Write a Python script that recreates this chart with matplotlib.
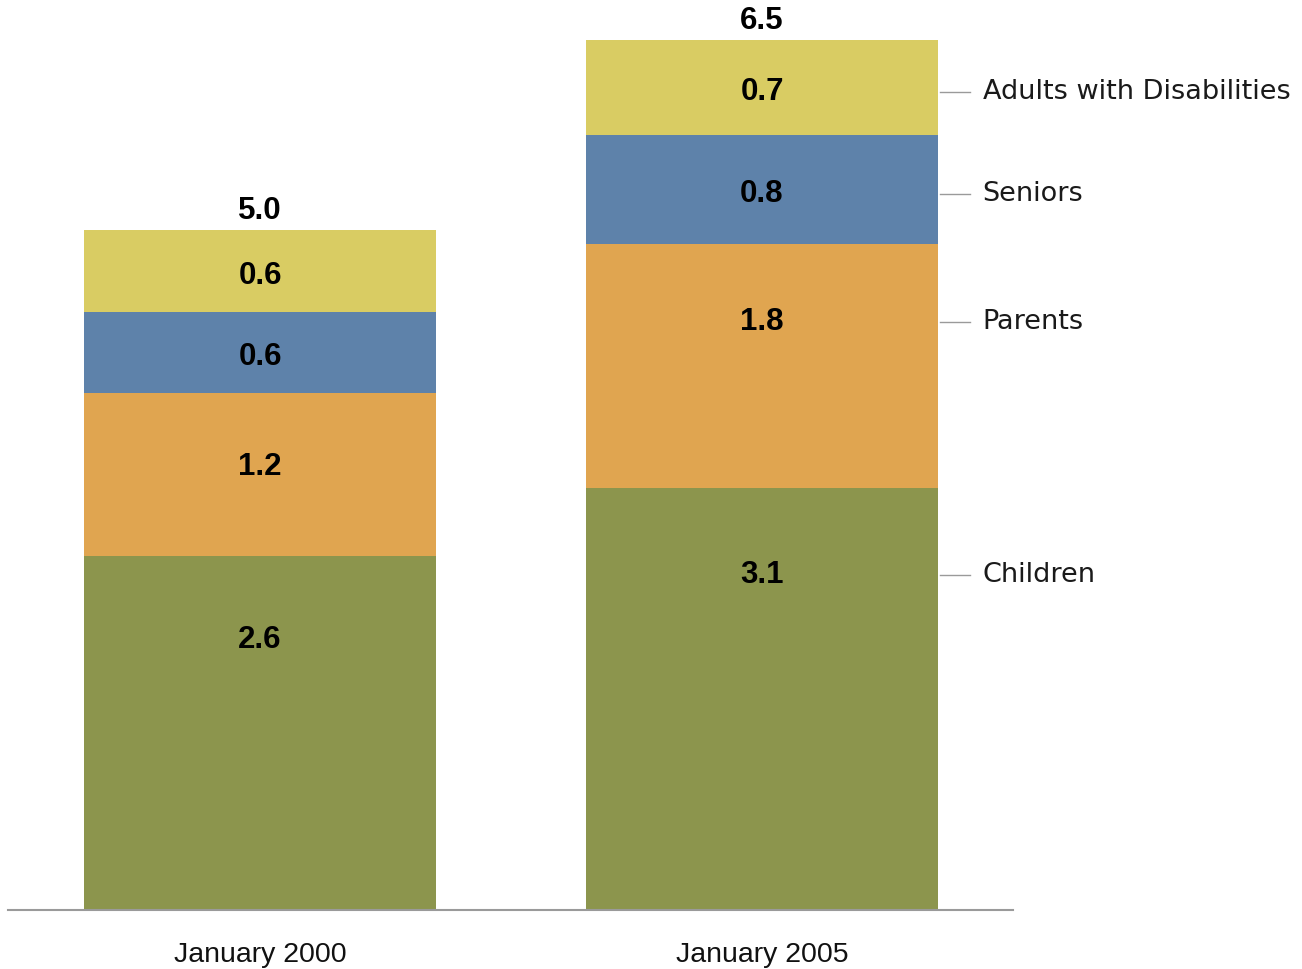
import matplotlib
matplotlib.use("Agg")
import matplotlib.pyplot as plt
import numpy as np

categories = ["January 2000", "January 2005"]
series_names = ["Children", "Parents", "Seniors", "Adults with Disabilities"]
children = [2.6, 3.1]
parents = [1.2, 1.8]
seniors = [0.6, 0.8]
disabilities = [0.6, 0.7]
totals = ["5.0", "6.5"]
value_labels = [["2.6", "3.1"], ["1.2", "1.8"], ["0.6", "0.8"], ["0.6", "0.7"]]

colors = ["#8C954D", "#E0A550", "#5E82AA", "#D9CC63"]

fig = plt.figure(figsize=(13.02, 9.69), dpi=100)
ax = fig.add_axes([8/1302, 59/969, 1005/1302, 910/969])
ax.set_xlim(-0.502, 1.5)
ax.set_ylim(0, 910/136)

x = np.arange(len(categories))
width = 0.701
series = [children, parents, seniors, disabilities]
bottom = np.zeros(len(categories))
label_font = dict(family=["Liberation Sans", "DejaVu Sans"], weight="bold", fontsize=22.5)
for vals, col, labs, name in zip(series, colors, value_labels, series_names):
    vals = np.array(vals)
    ax.bar(x, vals, width, bottom=bottom, color=col, linewidth=0)
    centers = bottom + vals / 2
    ys = centers + np.maximum(0, 0.45 * (vals - 1.0)) - 0.035
    for xi, yi, lab in zip(x, ys, labs):
        ax.text(xi, yi, lab, ha="center", va="center", color="black", **label_font)
    xr = x[-1] + width / 2
    yl = ys[-1]
    ax.plot([xr + 0.004, xr + 0.064], [yl, yl], color="#9a9a9a", lw=1, clip_on=False)
    ax.text(xr + 0.089, yl, name, ha="left", va="center", fontsize=19.5,
            family=["DejaVu Sans"], color="#1a1a1a", clip_on=False)
    bottom = bottom + vals

for xi, top, t in zip(x, bottom, totals):
    ax.text(xi, top + 0.14, t, ha="center", va="center", clip_on=False, **label_font)

ax.axhline(0, color="#9a9a9a", lw=1.5, clip_on=False)
for s in ax.spines.values():
    s.set_visible(False)
ax.set_yticks([])
ax.set_xticks(x)
ax.set_xticklabels(categories, fontsize=20.5, family=["Liberation Sans Narrow", "Liberation Sans", "DejaVu Sans"], color="#111111")
ax.tick_params(axis="x", length=0, pad=23)

fig.savefig("out.png", dpi=100)
